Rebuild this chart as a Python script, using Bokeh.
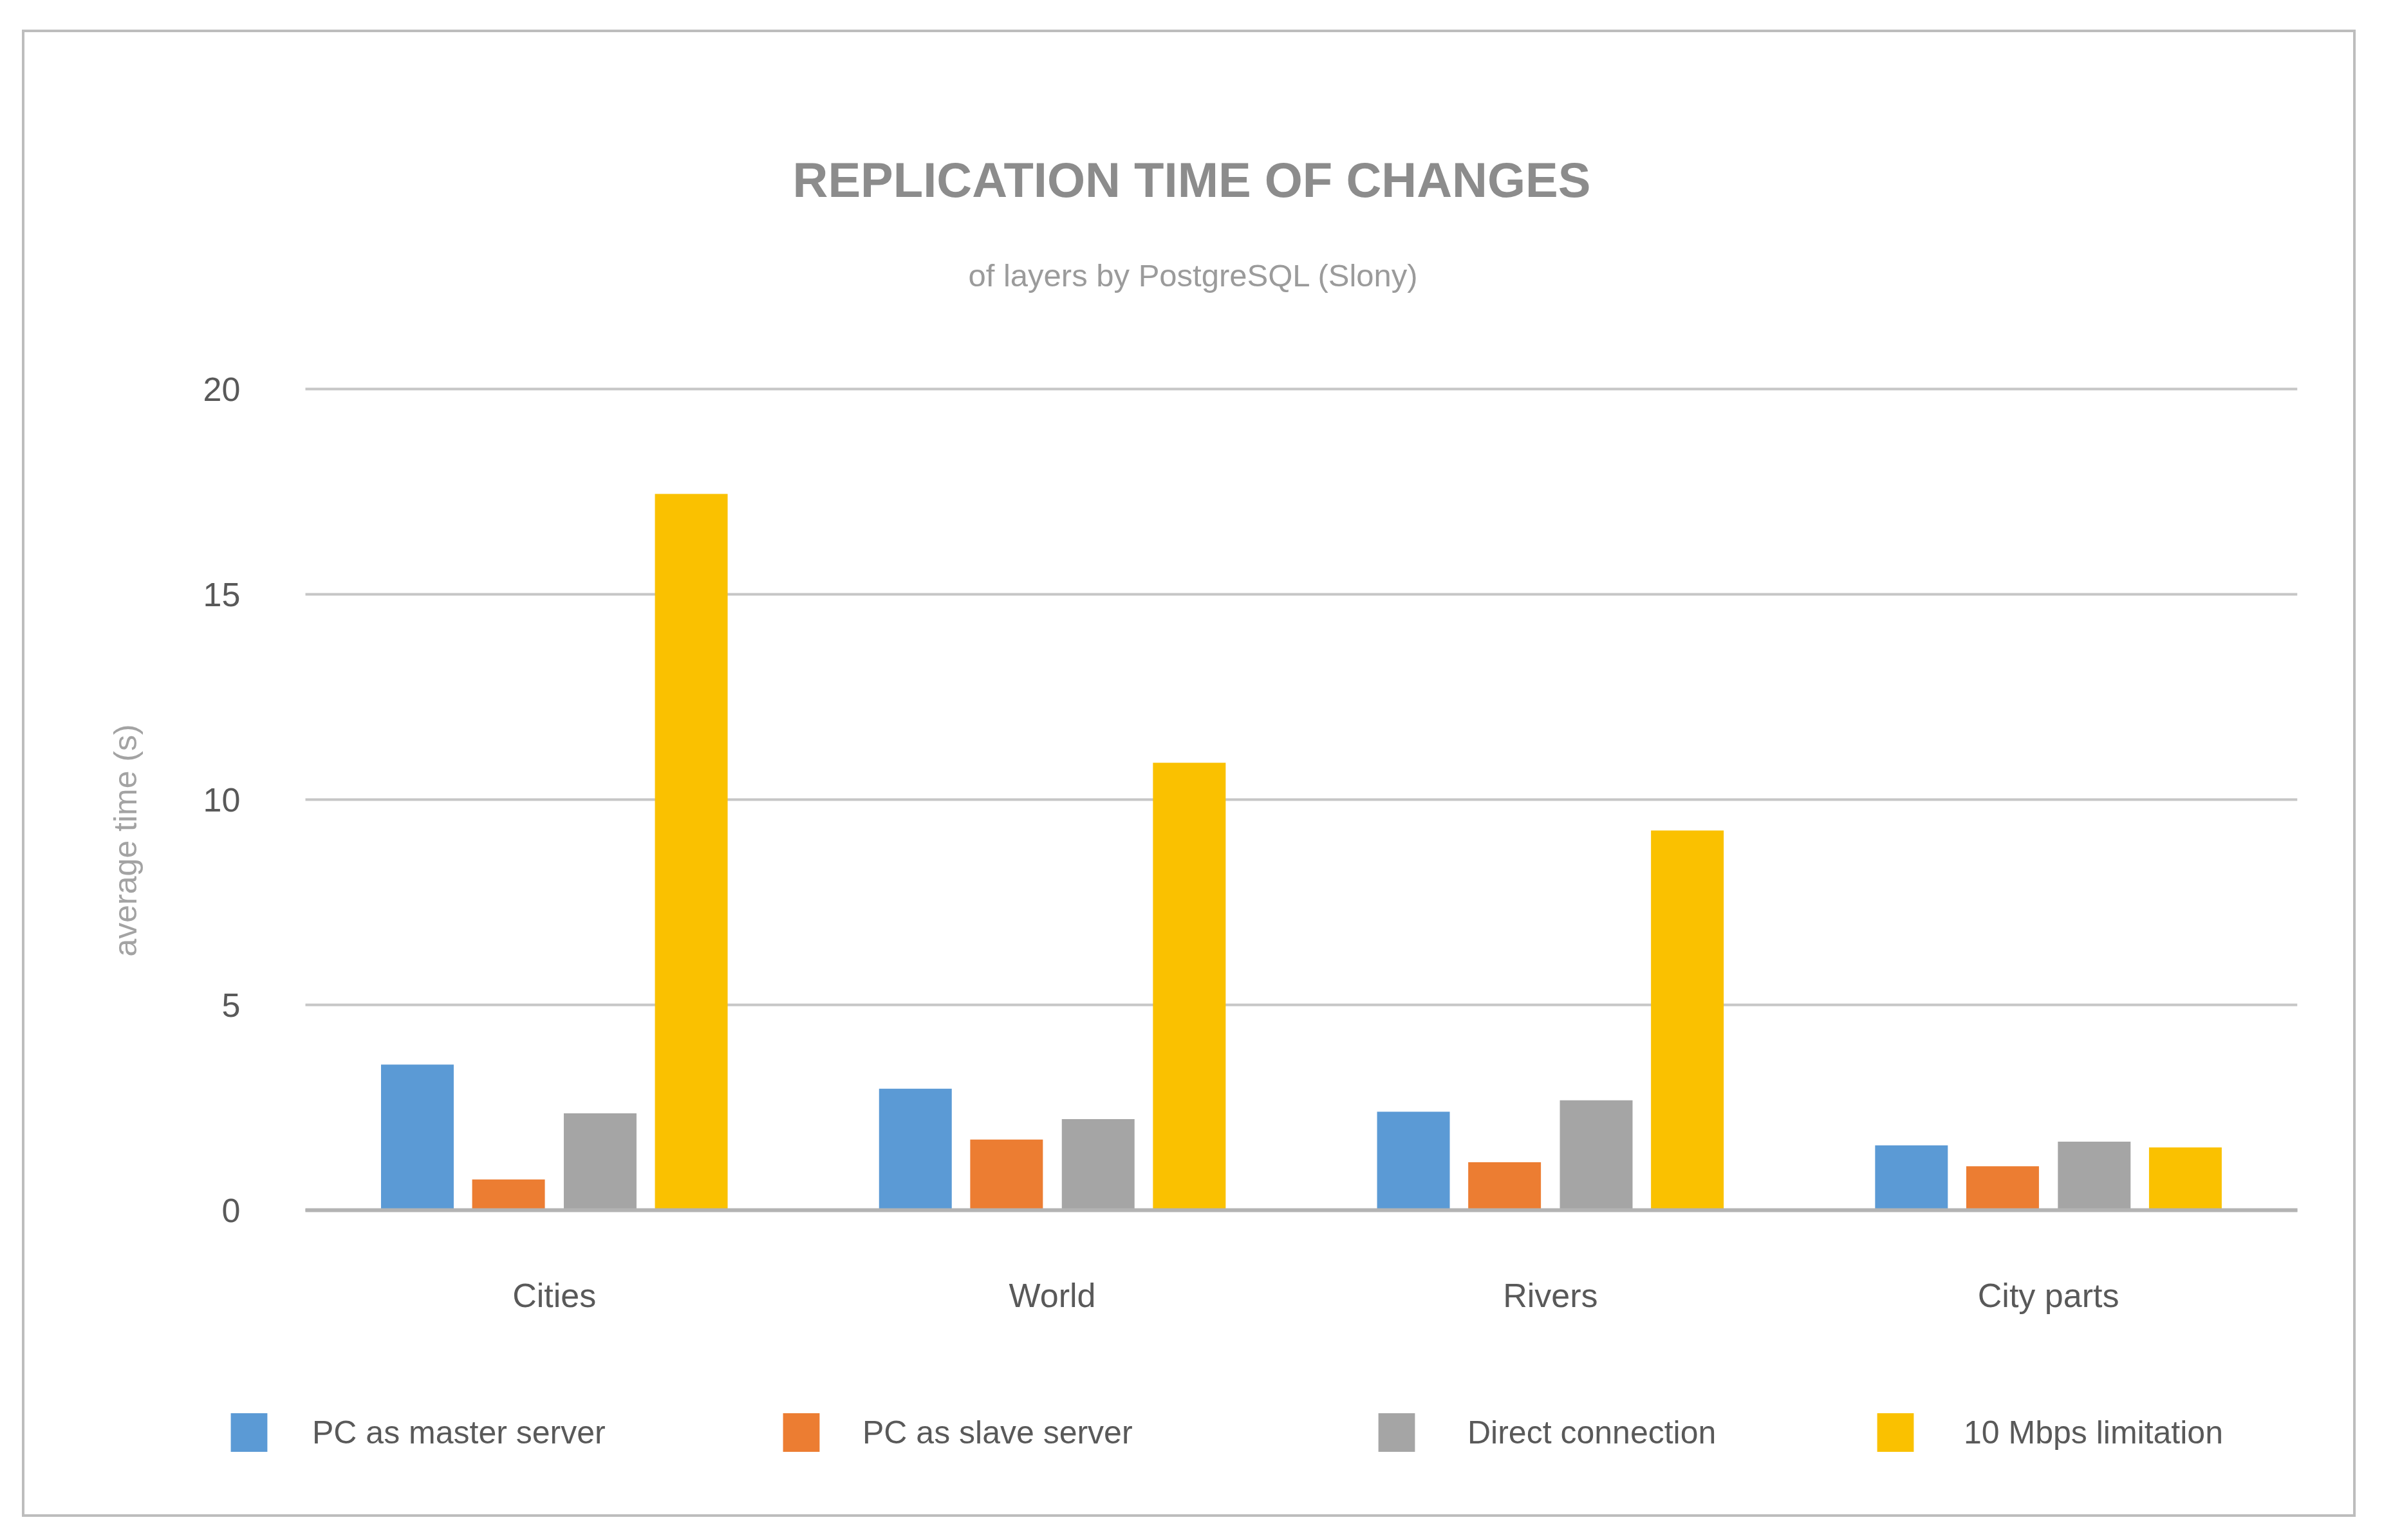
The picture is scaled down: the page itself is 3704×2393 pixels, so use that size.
from bokeh.plotting import figure
from bokeh.models import (Range1d, Legend, LegendItem, Title, Grid,
                          ColumnDataSource, FixedTicker)
from bokeh.transform import dodge
from bokeh.embed import file_html
from bokeh.resources import INLINE

# ---- data ----
categories = ["Cities", "World", "Rivers", "City parts"]
series_names = ["PC as master server", "PC as slave server",
                "Direct connection", "10 Mbps limitation"]
pc_master = [3.55, 2.96, 2.40, 1.58]
pc_slave = [0.75, 1.72, 1.17, 1.07]
direct_conn = [2.36, 2.22, 2.68, 1.67]
limit_10mbps = [17.45, 10.9, 9.25, 1.53]
y_ticks = [0, 5, 10, 15, 20]

title_text = "REPLICATION TIME OF CHANGES"
subtitle_text = "of layers by PostgreSQL (Slony)"
y_label = "average time (s)"

colors = ["#5b9ad5", "#ec7d32", "#a5a5a5", "#fac100"]
offsets = [-0.275, -0.092, 0.092, 0.275]
bar_w = 0.146
FONT = "Liberation Sans"

n_cat = len(categories)
cat_x = [i + 0.5 for i in range(n_cat)]   # centre of each category slot
source = ColumnDataSource(dict(cat=categories, x=cat_x, s0=pc_master, s1=pc_slave,
                               s2=direct_conn, s3=limit_10mbps))

p = figure(x_range=Range1d(-0.226, n_cat),
           y_range=Range1d(-7.1, 20.6),
           width=3626, height=2311,
           output_backend="svg", toolbar_location=None,
           min_border_left=261, min_border_right=95,
           min_border_top=516, min_border_bottom=28,
           margin=(46, 0, 0, 34),
           styles={"border": "4px solid #bdbdbd"})
p.background_fill_color = "white"
p.border_fill_color = "white"
p.outline_line_color = None

renderers = []
for i, key in enumerate(["s0", "s1", "s2", "s3"]):
    r = p.vbar(x=dodge("x", offsets[i]), top=key, width=bar_w,
               source=source, fill_color=colors[i], line_color=None)
    renderers.append(r)

# grid (only across the category area)
p.xgrid.visible = False
has_cross = "cross_bounds" in Grid.properties()
p.ygrid.ticker = FixedTicker(ticks=y_ticks)
p.ygrid.grid_line_color = "#c6c6c6"
p.ygrid.grid_line_width = 4
base = Grid(dimension=1, ticker=FixedTicker(ticks=[0]),
            grid_line_color="#b3b3b3", grid_line_width=6, level="overlay")
if has_cross:
    p.ygrid.cross_bounds = (0, n_cat)
    base.cross_bounds = (0, n_cat)
    p.add_layout(base, "center")
else:
    p.ygrid.visible = False
    p.segment(x0=0, x1=n_cat, y0=y_ticks, y1=y_ticks,
              line_color="#c6c6c6", line_width=4, level="underlay")
    p.segment(x0=0, x1=n_cat, y0=0, y1=0, line_color="#b3b3b3", line_width=6,
              level="overlay")

# y axis, anchored at the left edge of the category area
p.yaxis.fixed_location = 0
p.yaxis.ticker = FixedTicker(ticks=y_ticks)
p.yaxis.axis_line_color = None
p.yaxis.major_tick_line_color = None
p.yaxis.minor_tick_line_color = None
p.yaxis.major_label_standoff = 95
p.yaxis.major_label_text_font = FONT
p.yaxis.major_label_text_font_size = "52px"
p.yaxis.major_label_text_color = "#595959"

# y axis title
p.add_layout(Title(text=y_label, align="left", offset=847, standoff=154,
                   text_font=FONT, text_font_size="50px",
                   text_font_style="normal", text_color="#a3a3a3"), "left")

# x axis: category labels under the baseline
p.xaxis.visible = False
p.text(x="x", y=-2.07, text="cat", source=source,
       text_align="center", text_baseline="middle",
       text_font={"value": FONT}, text_font_size="52px", text_color="#595959")

# titles (spacer nearest the frame, then subtitle, then title)
p.add_layout(Title(text=" ", text_font_size="10px", standoff=26), "above")
p.add_layout(Title(text=subtitle_text, align="left", offset=1205, standoff=145,
                   text_font=FONT, text_font_size="49px",
                   text_font_style="normal", text_color="#9b9b9b"), "above")
p.title.text = title_text
p.title.align = "left"
p.title.offset = 932
p.title.standoff = 10
p.title.text_font = FONT
p.title.text_font_size = "76px"
p.title.text_font_style = "bold"
p.title.text_color = "#8c8c8c"

# legends, one per series
leg_x = [52, 910, 1835, 2610]
leg_standoff = [63, 60, 75, 71]
for i, r in enumerate(renderers):
    leg = Legend(items=[LegendItem(label=series_names[i], renderers=[r])],
                 location=(leg_x[i], 70), orientation="horizontal",
                 padding=0, margin=0, border_line_color=None,
                 background_fill_alpha=0, glyph_width=71, glyph_height=75,
                 label_standoff=leg_standoff[i], label_height=75,
                 label_text_font=FONT, label_text_font_size="50px",
                 label_text_color="#595959")
    p.add_layout(leg, "center")

open("out.html", "w").write(file_html(p, INLINE))
